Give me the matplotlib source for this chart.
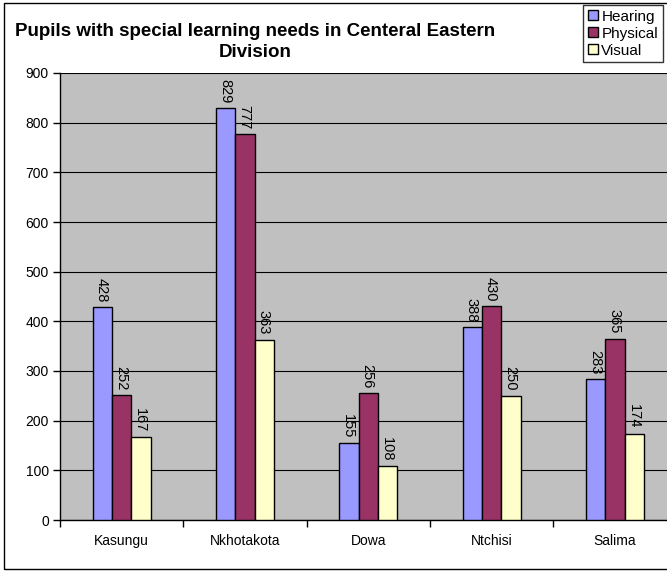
import matplotlib.pyplot as plt
from matplotlib.patches import Rectangle
import numpy as np

plt.rcParams['font.family'] = ['Liberation Sans', 'DejaVu Sans']

# data
districts = ["Kasungu", "Nkhotakota", "Dowa", "Ntchisi", "Salima"]
hearing = [428, 829, 155, 388, 283]
physical = [252, 777, 256, 430, 365]
visual = [167, 363, 108, 250, 174]
series_names = ["Hearing", "Physical", "Visual"]
colors = ["#9999FF", "#993366", "#FFFFCC"]

fig = plt.figure(figsize=(6.67, 5.72), dpi=100)
# axes extends past the right edge like the cropped original
ax = fig.add_axes([60 / 667, 52 / 572, 616.5 / 667, 447 / 572])
ax.set_facecolor("#C0C0C0")

x = np.arange(len(districts))
w = 0.157
for i, (vals, name, c) in enumerate(zip([hearing, physical, visual], series_names, colors)):
    pos = x + (i - 1) * w
    ax.bar(pos, vals, width=w, color=c, edgecolor="black", linewidth=1.0,
           label=name, zorder=3)
    for xp, v in zip(pos, vals):
        ax.annotate(str(v), (xp, v), xytext=(-0.5, 3.5), textcoords="offset points",
                    rotation=-90, ha="center", va="bottom", fontsize=10.5, zorder=4)

ax.set_ylim(0, 900)
ax.set_yticks(range(0, 901, 100))
ax.yaxis.grid(True, color="black", linewidth=0.8, zorder=1)
ax.set_xlim(-0.5, len(districts) - 0.5)

# category ticks between groups, labels at group centres
ax.set_xticks(np.arange(-0.5, len(districts), 1.0))
ax.set_xticklabels([])
ax.set_xticks(x, minor=True)
ax.set_xticklabels(districts, minor=True, fontsize=10)
ax.tick_params(axis="x", which="major", direction="out", length=5, width=1)
ax.tick_params(axis="x", which="minor", length=0, pad=10)
ax.tick_params(axis="y", direction="out", length=5, width=1, labelsize=10, pad=3)

for s in ["top", "right"]:
    ax.spines[s].set_visible(False)
ax.spines["left"].set_linewidth(1)
ax.spines["bottom"].set_linewidth(1)

fig.text(255 / 667, 1 - 42 / 572, "Pupils with special learning needs in Centeral Eastern\nDivision",
         ha="center", va="center", fontsize=13.5, fontweight="bold", linespacing=1.35)

leg = fig.legend(loc="upper left", bbox_to_anchor=(583 / 667, 1 - 5 / 572),
                 fontsize=11, frameon=True, fancybox=False, edgecolor="black",
                 borderpad=0.3, labelspacing=0.2, handlelength=0.65, handleheight=0.65,
                 handletextpad=0.25, borderaxespad=0)
leg.get_frame().set_linewidth(1)

# outer chart border
fig.patches.append(Rectangle((4 / 667, 3 / 572), 1.0, 566 / 572, transform=fig.transFigure,
                             fill=False, edgecolor="black", linewidth=1.0))

fig.savefig("out.png", dpi=100)
